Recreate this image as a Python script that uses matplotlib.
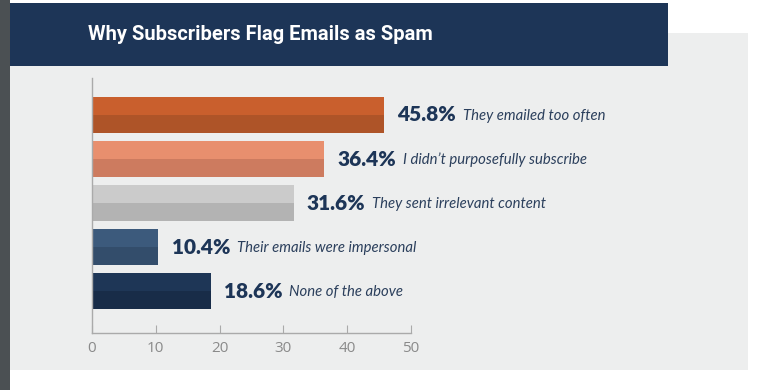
import matplotlib
matplotlib.use('Agg')
import matplotlib.pyplot as plt
from matplotlib.patches import Rectangle

# data
reasons = ['They emailed too often', 'I didn\u2019t purposefully subscribe',
           'They sent irrelevant content', 'Their emails were impersonal',
           'None of the above']
values = [45.8, 36.4, 31.6, 10.4, 18.6]
pct_labels = ['45.8%', '36.4%', '31.6%', '10.4%', '18.6%']
top_colors = ['#C95F2D', '#E88F6E', '#CBCBCB', '#3C5A7C', '#1E3656']
bottom_colors = ['#AE5428', '#CD7B5F', '#B3B3B3', '#334D6B', '#182C48']
xticks = [0, 10, 20, 30, 40, 50]
title = 'Why Subscribers Flag Emails as Spam'

W, H = 762, 390
fig = plt.figure(figsize=(W / 100, H / 100), dpi=100)
fig.patch.set_facecolor('white')

def px_rect(x0, y0, x1, y1, color):
    # rectangle given in pixel coords (y from top)
    fig.add_artist(Rectangle((x0 / W, 1 - y1 / H), (x1 - x0) / W, (y1 - y0) / H,
                             transform=fig.transFigure, color=color, lw=0, zorder=0))

px_rect(0, 0, 10, H, '#4B5053')          # dark strip on the left
px_rect(10, 33, 748, 370, '#EDEEEE')     # light panel
px_rect(10, 3, 668, 66, '#1D3557')       # header band
fig.text(88 / W, 1 - 34 / H, title, color='white', fontsize=14.5,
         fontweight='bold', family='Roboto', va='center', ha='left')

ax = fig.add_axes([92 / W, 57 / H, 319 / W, 255 / H])
ax.set_facecolor('none')

ys = list(range(len(values)))
h = 0.82
ax.barh([y - h / 4 for y in ys], values, height=h / 2, color=top_colors, lw=0)
ax.barh([y + h / 4 for y in ys], values, height=h / 2, color=bottom_colors, lw=0)

ax.set_xlim(0, 50)
ax.set_ylim(4.95, -0.84)
ax.set_xticks(xticks)
ax.set_yticks([])
for s in ['top', 'right']:
    ax.spines[s].set_visible(False)
for s in ['left', 'bottom']:
    ax.spines[s].set_color('#AAAAAA')
    ax.spines[s].set_linewidth(1)
ax.tick_params(axis='x', direction='in', length=6, color='#AAAAAA',
               labelcolor='#8A8A8A', labelsize=11, pad=6)
for lab in ax.get_xticklabels():
    lab.set_family('Open Sans')

for y, v, p, r in zip(ys, values, pct_labels, reasons):
    t = ax.annotate(p, xy=(v, y), xytext=(9.5, 0), textcoords='offset points',
                    va='center', ha='left', fontsize=15, fontweight='heavy',
                    family='Lato', color='#1D3557', annotation_clip=False)
    ax.annotate(r, xy=(1, 0.5), xycoords=t, xytext=(5, -0.5),
                textcoords='offset points', va='center', ha='left',
                fontsize=10.7, style='italic', family='Lato',
                color='#2B3F5C', annotation_clip=False)

fig.savefig('out.png', dpi=100)
